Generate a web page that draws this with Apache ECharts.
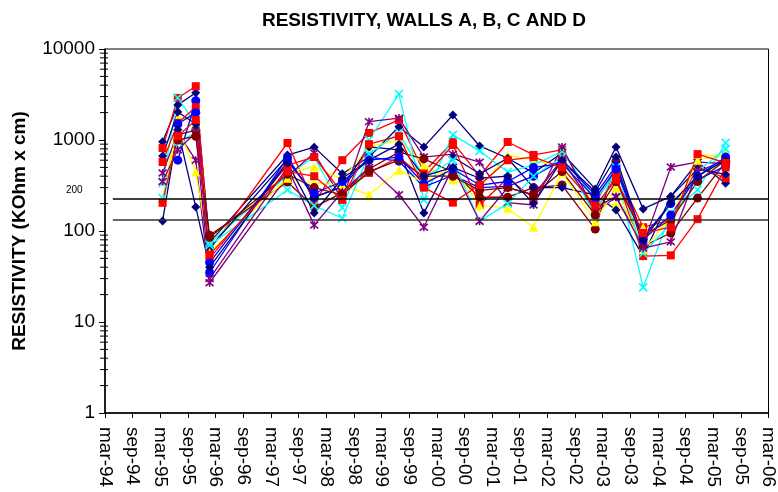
<!DOCTYPE html>
<html>
<head>
<meta charset="utf-8">
<script src="https://cdn.jsdelivr.net/npm/echarts@6/dist/echarts.min.js"></script>
<style>html,body{margin:0;padding:0;background:#fff}#c{width:778px;height:492px}</style>
</head>
<body>
<div id="c"></div>
<script>
// x positions: months since mar-94
var dates = [12.5, 15.8, 19.7, 22.7, 39.6, 45.4, 51.5, 57.3, 63.8, 69.2, 75.5, 81.3, 87.4, 93.0, 99.2, 106.4, 110.9, 116.8, 122.8, 128.6, 134.7];
var xTickLabels = ['mar-94','sep-94','mar-95','sep-95','mar-96','sep-96','mar-97','sep-97','mar-98','sep-98','mar-99','sep-99','mar-00','sep-00','mar-01','sep-01','mar-02','sep-02','mar-03','sep-03','mar-04','sep-04','mar-05','sep-05','mar-06'];
var yTickLabels = ['1','10','100','1000','10000'];
var refLines = [225, 132];
var refLineStart = 1.7;

var navyA   = [955, 2430, 3300, 75, 684, 835, 425, 650, 1400, 840, 1880, 860, 630, 435, 720, 290, 840, 175, 240, 570, 335];
var navyB   = [667, 2030, 1500, 65, 620, 235, 305, 840, 780, 158, 650, 425, 630, 300, 300, 250, 170, 53, 240, 480, 420];
var navyC   = [129, 1300, 183, 40, 560, 158, 380, 600, 900, 400, 500, 380, 400, 200, 600, 270, 650, 80, 200, 400, 600];
var redA    = [815, 2900, 3900, 62, 927, 205, 600, 1195, 1660, 445, 950, 400, 950, 685, 780, 208, 465, 110, 132, 505, 380];
var redB    = [573, 1540, 2300, 50, 530, 650, 262, 435, 650, 380, 880, 193, 380, 230, 630, 162, 410, 53, 54, 135, 500];
var redC    = [204, 1100, 1660, 55, 450, 400, 220, 900, 1100, 300, 205, 320, 600, 650, 500, 190, 365, 95, 110, 700, 560];
var yellowA = [210, 1740, 1660, 74, 445, 505, 370, 840, 1000, 530, 365, 300, 685, 600, 505, 203, 193, 110, 108, 700, 650];
var yellowB = [225, 1400, 445, 58, 380, 337, 320, 250, 465, 340, 500, 190, 178, 110, 435, 126, 300, 62, 140, 600, 700];
var cyanA   = [337, 2900, 1500, 74, 410, 650, 180, 1000, 3200, 220, 1140, 760, 445, 530, 750, 217, 450, 24, 158, 282, 930];
var cyanB   = [229, 950, 1200, 70, 282, 190, 138, 700, 1200, 390, 600, 128, 200, 400, 650, 150, 500, 57, 120, 450, 800];
var purpleA = [434, 1200, 600, 27, 400, 720, 220, 1590, 1740, 650, 700, 570, 205, 193, 840, 162, 235, 70, 505, 570, 550];
var purpleB = [350, 780, 1200, 30, 500, 116, 270, 500, 250, 110, 500, 128, 300, 250, 600, 180, 240, 65, 76, 450, 600];
var maroonA = [null, 1135, 1280, 90, 345, 183, 262, 480, 735, 620, 445, 235, 235, 300, 320, 105, 585, 68, 95, 230, 570];
var maroonB = [null, 1000, 1100, 85, 420, 300, 250, 450, 600, 400, 400, 280, 300, 250, 450, 150, 350, 90, 132, 350, 600];
var blueA   = [null, 600, 2700, 35, 640, 235, 305, 650, 585, 305, 410, 300, 310, 400, 600, 250, 520, 86, 200, 365, 520];
var blueB   = [null, 1500, 2000, 45, 580, 260, 350, 600, 650, 330, 480, 320, 350, 500, 550, 230, 480, 80, 150, 400, 650];

var minorTickValues = [];
[1, 10, 100, 1000].forEach(function (d) { for (var k = 2; k <= 9; k++) minorTickValues.push(d * k); });

var X_PATH = 'path://M0,0 L10,10 M10,0 L0,10';
var STAR_PATH = 'path://M0,0 L10,10 M10,0 L0,10 M5,-1 L5,11';
var FONT = 'Liberation Sans, Arial, Helvetica, sans-serif';

var styles = {
  navy:   {color: '#000080', symbol: 'diamond', size: 9},
  red:    {color: '#FF0000', symbol: 'rect', size: 8},
  yellow: {color: '#FFFF00', symbol: 'triangle', size: 9},
  cyan:   {color: '#00FFFF', symbol: X_PATH, size: 8, stroke: true},
  purple: {color: '#800080', symbol: STAR_PATH, size: 8, stroke: true},
  maroon: {color: '#800000', symbol: 'circle', size: 9},
  blue:   {color: '#0000FF', symbol: 'circle', size: 9}
};

var seriesDefs = [
  ['navy', navyA], ['red', redA], ['yellow', yellowA], ['cyan', cyanA], ['purple', purpleA], ['maroon', maroonA], ['blue', blueA],
  ['navy', navyB], ['red', redB], ['yellow', yellowB], ['cyan', cyanB], ['purple', purpleB], ['maroon', maroonB], ['blue', blueB],
  ['navy', navyC], ['red', redC]
];

var series = seriesDefs.map(function (def, i) {
  var st = styles[def[0]];
  return {
    type: 'line',
    name: 'S' + (i + 1),
    data: dates.map(function (d, j) { return [d, def[1][j]]; }).filter(function (p) { return p[1] != null; }),
    symbol: st.symbol,
    symbolSize: st.size,
    showAllSymbol: true,
    lineStyle: {color: st.color, width: 1.3},
    itemStyle: st.stroke ? {color: st.color, borderColor: st.color, borderWidth: 1.6} : {color: st.color, borderWidth: 0},
    emphasis: {disabled: true},
    animation: false,
    z: 3
  };
});

refLines.forEach(function (v, i) {
  series.push({
    type: 'line',
    data: [[refLineStart, v], [144, v]],
    symbol: 'none',
    lineStyle: {color: i === 0 ? '#000' : '#333', width: 1.6},
    animation: false,
    z: 4
  });
});

series.push({
  type: 'custom',
  data: minorTickValues.map(function (v) { return [0, v]; }),
  renderItem: function (params, api) {
    var p = api.coord([0, api.value(1)]);
    return {type: 'line', shape: {x1: p[0] - 5, y1: p[1], x2: p[0] + 3, y2: p[1]}, style: {stroke: '#000', lineWidth: 1}};
  },
  encode: {x: 0, y: 1},
  clip: false,
  silent: true,
  animation: false,
  z: 5
});

var chart = echarts.init(document.getElementById('c'), null, {renderer: 'canvas'});
chart.setOption({
  backgroundColor: '#fff',
  textStyle: {fontFamily: FONT},
  title: {
    text: 'RESISTIVITY, WALLS A, B, C AND D',
    left: 419, top: 6, textAlign: 'center',
    textStyle: {fontSize: 19, fontWeight: 'bold', color: '#000', fontFamily: FONT}
  },
  grid: {left: 105, right: 7, top: 49, bottom: 79, show: true, borderColor: '#000', borderWidth: 1, containLabel: false},
  xAxis: {
    type: 'value', min: 0, max: 144, interval: 6,
    axisLine: {show: true, lineStyle: {color: '#000', width: 1.5}},
    axisTick: {show: true, length: 5, lineStyle: {color: '#000'}},
    splitLine: {show: false},
    axisLabel: {
      rotate: -90, fontSize: 19, color: '#000', margin: 14,
      fontFamily: FONT,
      formatter: function (v) { return xTickLabels[Math.round(v / 6)] || ''; }
    }
  },
  yAxis: {
    type: 'log', logBase: 10, min: 1, max: 10000,
    name: 'RESISTIVITY (KOhm x cm)', nameLocation: 'middle', nameGap: 76,
    nameTextStyle: {fontSize: 19, fontWeight: 'bold', color: '#000', fontFamily: FONT},
    axisLine: {show: true, lineStyle: {color: '#000', width: 1.5}},
    axisTick: {show: true, length: 6, lineStyle: {color: '#000'}},
    splitLine: {show: false},
    axisLabel: {
      fontSize: 19, color: '#000', margin: 10,
      fontFamily: FONT,
      formatter: function (v) { var i = Math.round(Math.log10(v)); return yTickLabels[i] || ''; }
    }
  },
  graphic: [{
    type: 'text', left: 66, top: 185,
    style: {text: '200', fontSize: 10, fill: '#000', fontFamily: FONT}
  }],
  series: series
});
</script>
</body>
</html>
